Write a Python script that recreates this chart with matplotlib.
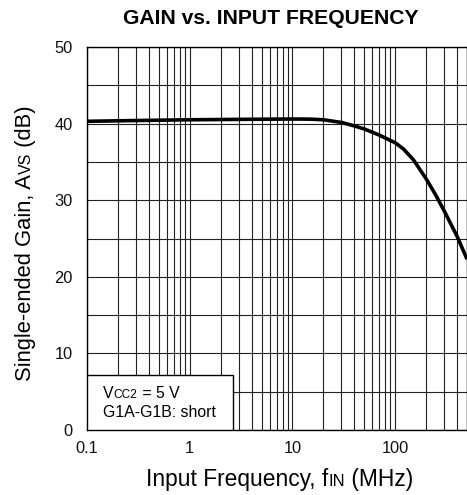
import matplotlib
matplotlib.use("Agg")
import matplotlib.pyplot as plt
from matplotlib.patches import Rectangle
from matplotlib.transforms import IdentityTransform

plt.rcParams['font.family'] = ['Liberation Sans', 'DejaVu Sans']

# curve
freq = [0.1, 0.3, 1, 3, 10, 15, 20, 30, 40, 50, 70, 100, 120, 150, 200, 250, 300, 400, 500]
gain = [40.3, 40.4, 40.5, 40.55, 40.6, 40.58, 40.5, 40.15, 39.7, 39.3, 38.5, 37.5, 36.7,
        35.3, 32.8, 30.6, 28.6, 25.3, 22.3]

x_ticks = [0.1, 1, 10, 100]
x_tick_labels = ['0.1', '1', '10', '100']
y_ticks = [0, 10, 20, 30, 40, 50]


def text_width(fig, s, size):
    renderer = fig.canvas.get_renderer()
    probe = fig.text(0, 0, s, fontsize=size, transform=IdentityTransform())
    w = probe.get_window_extent(renderer).width
    probe.remove()
    return w


def small_caps(fig, parts, x, y, rotation=0):
    """Draw text pieces one after another, starting at pixel (x, y) on the baseline."""
    pos = 0.0
    for s, size in parts:
        if rotation == 90:
            fig.text(x, y + pos, s, fontsize=size, rotation=90, rotation_mode='anchor',
                     ha='left', va='baseline', transform=IdentityTransform())
        else:
            fig.text(x + pos, y, s, fontsize=size, ha='left', va='baseline',
                     transform=IdentityTransform())
        pos += text_width(fig, s, size)
    return pos


fig = plt.figure(figsize=(4.67, 4.95), dpi=100)
ax = fig.add_axes([87 / 467, 65 / 495, 380 / 467, 383 / 495])

ax.plot(freq, gain, color='black', lw=2.6, solid_capstyle='butt', zorder=4)

ax.set_xscale('log')
ax.set_xlim(0.1, 500)
ax.set_ylim(0, 50)
ax.set_xticks(x_ticks)
ax.set_xticklabels(x_tick_labels)
ax.set_yticks(y_ticks)
ax.set_yticks(range(0, 51, 5), minor=True)
ax.xaxis.set_minor_formatter(plt.NullFormatter())
ax.grid(True, which='both', color='#222222', lw=0.8)
ax.tick_params(which='both', length=0, labelsize=11.8, labelcolor='#111111')
ax.tick_params(axis='x', pad=8)
ax.tick_params(axis='y', pad=10.5)
for sp in ax.spines.values():
    sp.set_linewidth(1.0)

# note box in lower left
ax.add_patch(Rectangle((0, 0), 146 / 380, 55 / 383, transform=ax.transAxes,
                       facecolor='white', edgecolor='black', lw=1.0, zorder=3))

fig.text(271 / 467, 1 - 18 / 495, 'GAIN vs. INPUT FREQUENCY', fontsize=15.2,
         fontweight='bold', ha='center', va='center')

fig.canvas.draw()
H = 495
small_caps(fig, [('V', 11.4), ('CC2', 8.6), (' = 5 V', 11.4)], 103, H - 398)
small_caps(fig, [('G1A-G1B: short', 11.4)], 103, H - 417)

# x label, centred under the axes
xparts = [('Input Frequency, f', 16.4), ('IN', 12), (' (MHz)', 16.4)]
total = sum(text_width(fig, s, size) for s, size in xparts)
small_caps(fig, xparts, 280 - total / 2, H - 486)

yparts = [('Single-ended Gain, A', 15.8), ('VS', 11.5), (' (dB)', 15.8)]
total = sum(text_width(fig, s, size) for s, size in yparts)
small_caps(fig, yparts, 31, H - 243 - total / 2, rotation=90)

fig.savefig('out.png', dpi=100)
